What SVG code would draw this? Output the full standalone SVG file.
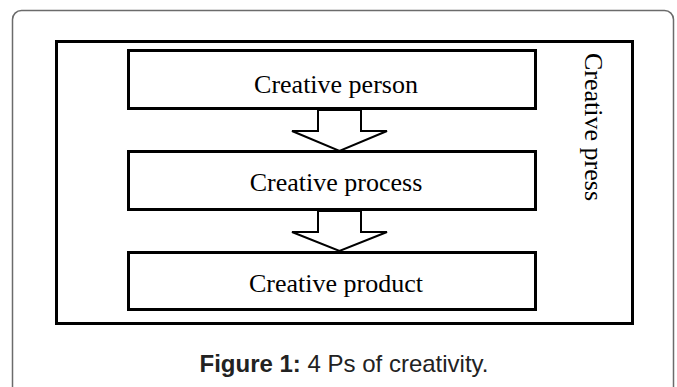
<svg xmlns="http://www.w3.org/2000/svg" width="677" height="387" viewBox="0 0 677 387">
<style>
.frame{fill:#fff;stroke:#6b6b6b;stroke-width:1.5}
.box{fill:#fff;stroke:#000;stroke-width:3}
.arrow{fill:#fff;stroke:#000;stroke-width:2;stroke-linejoin:miter}
.lbl{font-family:"Liberation Serif","Times New Roman",serif;font-size:26px;fill:#000}
.cap{font-family:"Liberation Sans",Arial,sans-serif;font-size:24px;fill:#222}
</style>
<rect class="frame" x="12.5" y="10.5" width="661" height="400" rx="9"/>
<g id="press">
<rect class="box" x="56.5" y="41.5" width="576" height="282"/>
<text class="lbl" transform="translate(585,127) rotate(90)" text-anchor="middle">Creative press</text>
</g>
<g id="connectors">
<polygon class="arrow" points="318,110 318,131 292,131 339.5,151 387,131 361,131 361,110"/>
<polygon class="arrow" points="318,211 318,232 292,232 339.5,251 387,232 361,232 361,211"/>
</g>
<g id="person">
<rect class="box" x="128.5" y="50.5" width="407" height="58"/>
<text class="lbl" x="336" y="93" text-anchor="middle">Creative person</text>
</g>
<g id="process">
<rect class="box" x="128.5" y="151.5" width="407" height="58"/>
<text class="lbl" x="336" y="191" text-anchor="middle">Creative process</text>
</g>
<g id="product">
<rect class="box" x="128.5" y="252.5" width="407" height="57"/>
<text class="lbl" x="336" y="292" text-anchor="middle">Creative product</text>
</g>
<text class="cap" x="344" y="372" text-anchor="middle"><tspan font-weight="bold">Figure 1:</tspan> 4 Ps of creativity.</text>
</svg>
